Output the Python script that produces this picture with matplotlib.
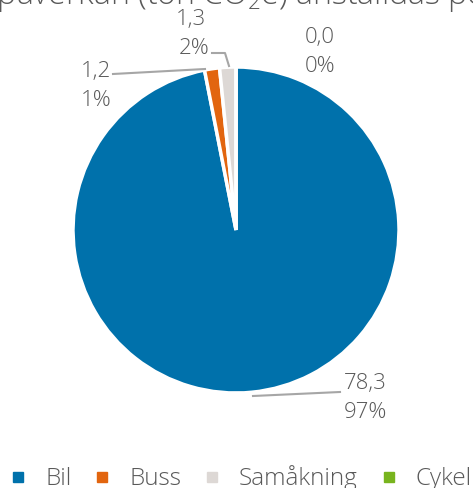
import matplotlib
matplotlib.use("Agg")
import matplotlib.pyplot as plt
from matplotlib.lines import Line2D

categories = ["Bil", "Buss", "Samåkning", "Cykel"]
values = [78.3, 1.2, 1.3, 0.0]
value_labels = ["78,3", "1,2", "1,3", "0,0"]
pct_labels = ["97%", "1%", "2%", "0%"]
colors = ["#0071AB", "#E2650F", "#DDD8D5", "#78B41E"]

TXT = "#595959"
plt.rcParams["font.family"] = ["Open Sans", "DejaVu Sans"]
plt.rcParams["font.weight"] = "light"
plt.rcParams["mathtext.fontset"] = "custom"
plt.rcParams["mathtext.rm"] = "Open Sans:light"
plt.rcParams["mathtext.it"] = "Open Sans:italic:light"
plt.rcParams["mathtext.bf"] = "Open Sans:bold"

W, H = 473, 488
fig = plt.figure(figsize=(W / 100, H / 100), dpi=100)

# pie axes: centre (236, 230) px, radius 163 px
cx, cy, r = 236, 230, 163
ax = fig.add_axes([(cx - r) / W, (H - cy - r) / H, 2 * r / W, 2 * r / H])
wedges, _ = ax.pie(values, colors=colors, startangle=90, counterclock=False,
                   radius=1, wedgeprops=dict(edgecolor="white", linewidth=2.5))
ax.set_xlim(-1, 1)
ax.set_ylim(-1, 1)
ax.set_aspect("equal")
ax.axis("off")


def px(x, y):
    return ((x - cx) / r, (cy - y) / r)


# value / percent labels (pixel positions of the text)
label_pos = {
    "Bil": (365, 384, 365, 412),
    "Buss": (96, 71, 96, 100),
    "Samåkning": (191, 19, 194, 48),
    "Cykel": (320, 37, 320, 66),
}
for cat, vl, pl in zip(categories, value_labels, pct_labels):
    x1, y1, x2, y2 = label_pos[cat]
    ax.text(*px(x1, y1), vl, ha="center", va="center", fontsize=16, color=TXT,
            clip_on=False)
    ax.text(*px(x2, y2), pl, ha="center", va="center", fontsize=16, color=TXT,
            clip_on=False)

# leader lines
lc = "#A6A6A6"
ax.plot(*zip(px(253, 396), px(340, 392)), color=lc, lw=1.5, clip_on=False)
ax.plot(*zip(px(113, 74), px(205, 69)), color=lc, lw=1.5, clip_on=False)
ax.plot(*zip(px(212, 53), px(225, 53), px(229, 66)), color=lc, lw=1.5,
        clip_on=False)

# title, cropped on the left like the original
title = "Klimatpåverkan (ton CO$_2$e) anställdas pendling"
title_size = 23
renderer = fig.canvas.get_renderer()
tmp = fig.text(0, 0, "Klimat", fontsize=title_size)
off = tmp.get_window_extent(renderer).width
tmp.remove()
fig.text((-off - 3) / W, 1 - 4 / H, title, ha="left", va="baseline",
         fontsize=title_size, color=TXT)

# legend, placed item by item
leg_x = [(18, 45), (102, 129), (212, 239), (389, 415)]
leg_y = 1 - 477 / H
for (mx, tx), cat, c in zip(leg_x, categories, colors):
    fig.add_artist(Line2D([mx / W], [leg_y], marker="s", ls="", color=c,
                          markersize=7.5, transform=fig.transFigure))
    fig.text(tx / W, 1 - 485 / H, cat, ha="left", va="baseline",
             fontsize=17.5, color=TXT)

fig.savefig("out.png", dpi=100)
